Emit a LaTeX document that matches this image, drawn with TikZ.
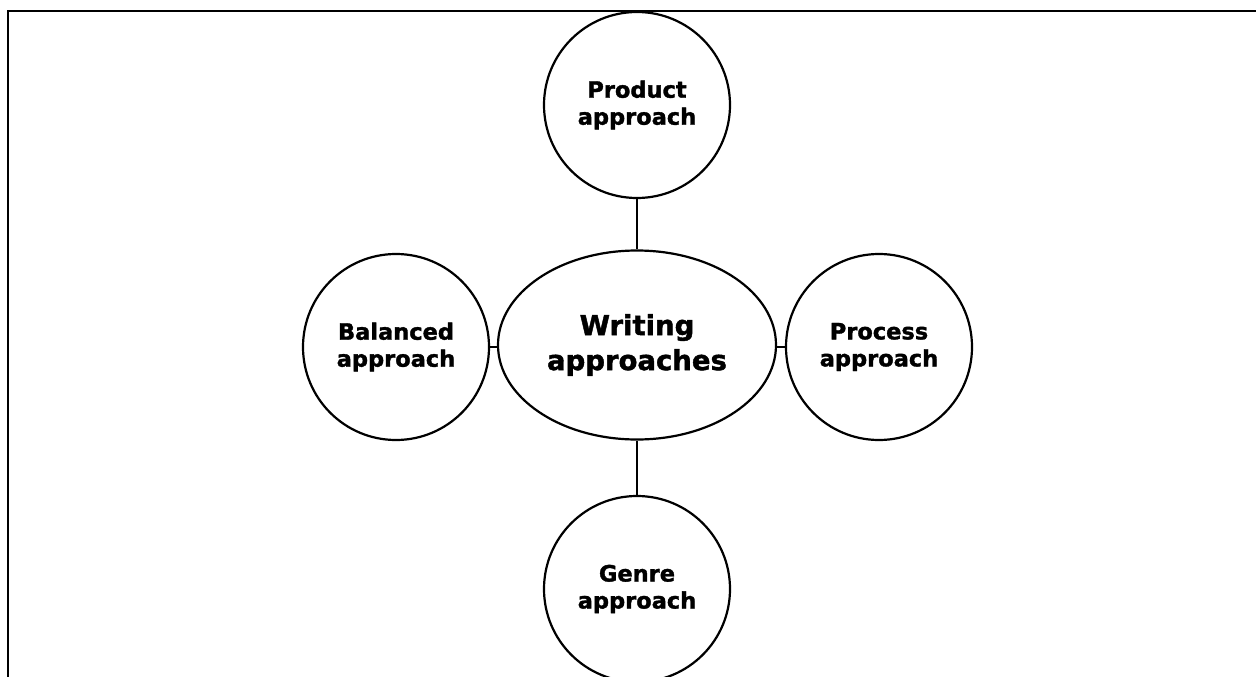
\documentclass[tikz,border=0pt]{standalone}
\usepackage{fontspec}
\setmainfont{DejaVu Sans}[BoldFeatures={FakeBold=1.5}]
\usetikzlibrary{shapes.geometric}
\begin{document}
\begin{tikzpicture}[x=1pt,y=-1pt,
  every node/.style={font=\bfseries},
  sat/.style={draw,line width=2.2pt,circle,minimum size=186pt,inner sep=0pt,align=center,font=\bfseries\fontsize{22.5}{27}\selectfont},
  hub/.style={draw,line width=2.2pt,ellipse,minimum width=278pt,minimum height=189pt,inner sep=0pt,align=center,font=\bfseries\fontsize{27.5}{35}\selectfont},
  link/.style={line width=2.2pt}]
\useasboundingbox (0,0) rectangle (1256,677);
\coordinate (tl) at (8,11);
\coordinate (tr) at (1256,11);
\coordinate (bl) at (8,677);
\draw[line width=2.2pt] (tr) -- (tl) -- (bl);
\node[hub] (c) at (637,345) {Writing\\approaches};
\node[sat] (p) at (637,105) {Product\\approach};
\node[sat] (b) at (396,347) {Balanced\\approach};
\node[sat] (r) at (879,347) {Process\\approach};
\node[sat] (g) at (637,589) {Genre\\approach};
\draw[link] (p) -- (c);
\draw[link] (g) -- (c);
\draw[link] (b.east) -- (b.east -| c.west);
\draw[link] (r.west) -- (r.west -| c.east);
\end{tikzpicture}
\end{document}
